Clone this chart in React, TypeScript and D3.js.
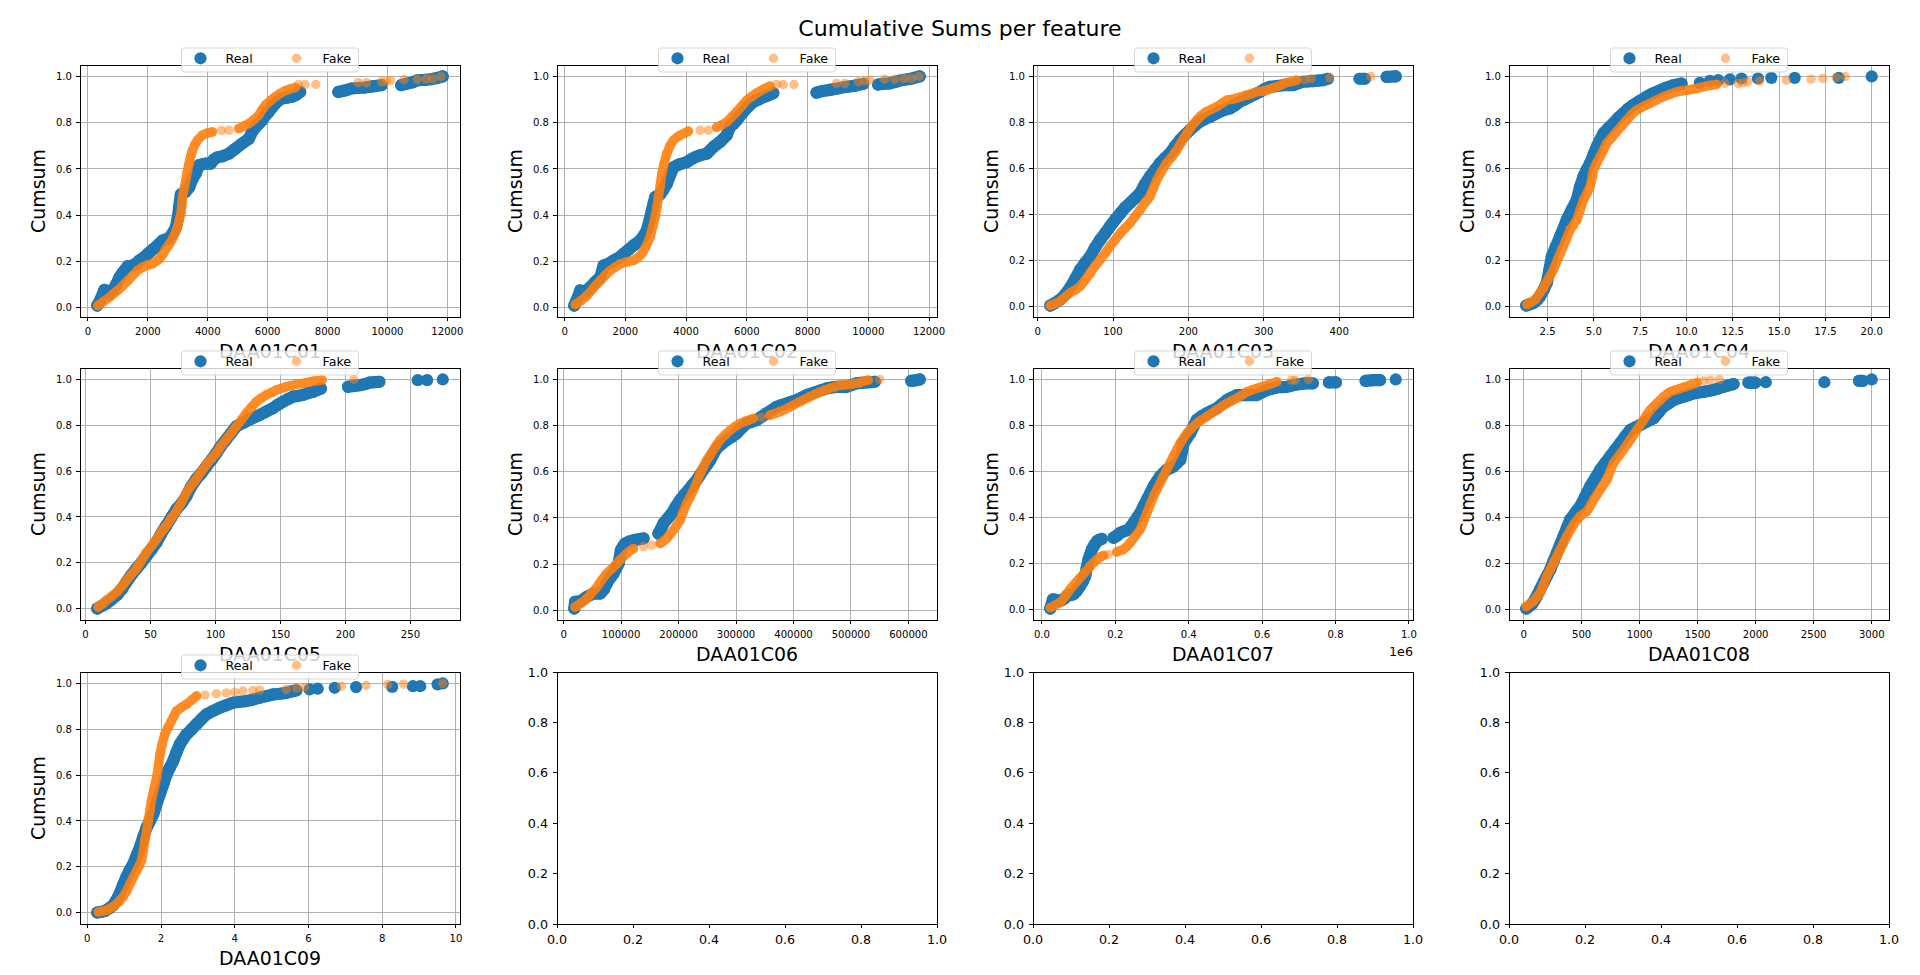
import React from 'react';
import * as d3 from 'd3';

type Pt = [number, number];
type Run = Pt[];

const TITLE = 'Cumulative Sums per feature';
const Y_LABEL = 'Cumsum';
const REAL_LABEL = 'Real';
const FAKE_LABEL = 'Fake';
const FEATURES = ['DAA01C01', 'DAA01C02', 'DAA01C03', 'DAA01C04', 'DAA01C05', 'DAA01C06', 'DAA01C07', 'DAA01C08', 'DAA01C09'];

const Y_TICKS = [0, 0.2, 0.4, 0.6, 0.8, 1.0];
const Y_TICK_LABELS = ['0.0', '0.2', '0.4', '0.6', '0.8', '1.0'];
const EMPTY_TICKS = [0, 0.2, 0.4, 0.6, 0.8, 1.0];
const EMPTY_TICK_LABELS = ['0.0', '0.2', '0.4', '0.6', '0.8', '1.0'];

const C01_X_TICKS = [0, 2000, 4000, 6000, 8000, 10000, 12000];
const C01_X_LABELS = ['0', '2000', '4000', '6000', '8000', '10000', '12000'];
const C02_X_TICKS = [0, 2000, 4000, 6000, 8000, 10000, 12000];
const C02_X_LABELS = ['0', '2000', '4000', '6000', '8000', '10000', '12000'];
const C03_X_TICKS = [0, 100, 200, 300, 400];
const C03_X_LABELS = ['0', '100', '200', '300', '400'];
const C04_X_TICKS = [2.5, 5, 7.5, 10, 12.5, 15, 17.5, 20];
const C04_X_LABELS = ['2.5', '5.0', '7.5', '10.0', '12.5', '15.0', '17.5', '20.0'];
const C05_X_TICKS = [0, 50, 100, 150, 200, 250];
const C05_X_LABELS = ['0', '50', '100', '150', '200', '250'];
const C06_X_TICKS = [0, 100000, 200000, 300000, 400000, 500000, 600000];
const C06_X_LABELS = ['0', '100000', '200000', '300000', '400000', '500000', '600000'];
const C07_X_TICKS = [0, 200000, 400000, 600000, 800000, 1000000];
const C07_X_LABELS = ['0.0', '0.2', '0.4', '0.6', '0.8', '1.0'];
const C07_OFFSET = '1e6';
const C08_X_TICKS = [0, 500, 1000, 1500, 2000, 2500, 3000];
const C08_X_LABELS = ['0', '500', '1000', '1500', '2000', '2500', '3000'];
const C09_X_TICKS = [0, 2, 4, 6, 8, 10];
const C09_X_LABELS = ['0', '2', '4', '6', '8', '10'];

// Each series is a list of runs: consecutive, overlapping points; single-point runs are isolated dots.
const C01_REAL: Run[] = [
  [[310,0.009],[400,0.03],[550,0.077],[720,0.06],[850,0.08],[941,0.10],[1050,0.13],[1150,0.15],[1250,0.165],[1330,0.18],[1450,0.18],[1600,0.19],[1716,0.204],[1850,0.215],[2000,0.233],[2200,0.255],[2380,0.276],[2490,0.29],[2700,0.30],[2823,0.32],[2934,0.348],[3000,0.39],[3045,0.435],[3100,0.49],[3250,0.50],[3376,0.52],[3500,0.56],[3598,0.58],[3709,0.616],[3820,0.62],[3930,0.623],[4096,0.623],[4200,0.64],[4318,0.65],[4500,0.655],[4705,0.666],[4926,0.688],[5148,0.71],[5369,0.73],[5480,0.76],[5590,0.78],[5700,0.795],[5812,0.81],[5920,0.83],[6033,0.847],[6140,0.865],[6255,0.883],[6360,0.895],[6476,0.905],[6640,0.908],[6808,0.912],[6950,0.92],[7085,0.933]],
  [[8358,0.933],[8600,0.94],[8800,0.948],[9000,0.95],[9244,0.952],[9500,0.957],[9797,0.962]],
  [[10460,0.962],[10680,0.97],[10850,0.975],[11015,0.984],[11250,0.985],[11458,0.988],[11650,0.993],[11845,1.0]],
];
const C01_FAKE: Run[] = [
  [[332,0.009],[500,0.025],[720,0.045],[950,0.07],[1162,0.095],[1350,0.12],[1494,0.139],[1650,0.16],[1826,0.175],[2000,0.185],[2159,0.19],[2380,0.21],[2500,0.23],[2602,0.254],[2720,0.275],[2823,0.298],[2920,0.325],[2989,0.348],[3050,0.38],[3100,0.406],[3130,0.44],[3155,0.478],[3210,0.515],[3266,0.55],[3320,0.59],[3376,0.623],[3430,0.655],[3487,0.68],[3570,0.705],[3653,0.724],[3820,0.746],[3980,0.755],[4152,0.76]],
  [[4460,0.766]], [[4705,0.767]],
  [[5037,0.775],[5200,0.785],[5369,0.796],[5540,0.812],[5701,0.832],[5810,0.855],[5923,0.876],[6090,0.895],[6255,0.912],[6420,0.927],[6587,0.938],[6750,0.946],[6919,0.952]],
  [[7030,0.965]], [[7251,0.965]], [[7606,0.965]], [[9022,0.973]], [[9300,0.973]], [[9797,0.977]], [[9963,0.98]], [[10107,0.982]], [[10550,0.986]], [[10993,0.988]], [[11292,0.989]], [[11513,0.99]], [[11790,0.999]],
];

const C02_REAL: Run[] = [
  [[318,0.009],[420,0.04],[515,0.074],[680,0.07],[844,0.088],[1000,0.11],[1173,0.131],[1282,0.182],[1450,0.19],[1611,0.204],[1780,0.215],[1940,0.233],[2100,0.25],[2268,0.269],[2488,0.29],[2600,0.31],[2707,0.334],[2800,0.38],[2871,0.42],[2930,0.45],[2981,0.478],[3145,0.49],[3250,0.51],[3364,0.535],[3480,0.575],[3584,0.607],[3700,0.615],[3803,0.621],[4022,0.629],[4186,0.643],[4320,0.652],[4460,0.659],[4680,0.666],[4899,0.695],[5118,0.717],[5337,0.746],[5447,0.782],[5560,0.795],[5666,0.81],[5780,0.83],[5885,0.847],[6050,0.87],[6214,0.89],[6380,0.9],[6543,0.91],[6700,0.918],[6871,0.928]],
  [[8296,0.93],[8500,0.937],[8734,0.942],[9000,0.948],[9282,0.955],[9550,0.96],[9830,0.968]],
  [[10323,0.965],[10500,0.968],[10707,0.97],[10900,0.977],[11145,0.985],[11400,0.99],[11693,1.0]],
];
const C02_FAKE: Run[] = [
  [[351,0.013],[540,0.03],[734,0.052],[950,0.085],[1173,0.117],[1340,0.14],[1501,0.16],[1660,0.175],[1830,0.189],[2050,0.198],[2268,0.204],[2400,0.215],[2542,0.233],[2680,0.265],[2816,0.305],[2900,0.35],[2981,0.392],[3040,0.435],[3090,0.478],[3150,0.53],[3200,0.579],[3280,0.625],[3364,0.666],[3470,0.7],[3584,0.724],[3700,0.737],[3803,0.746],[3950,0.755],[4077,0.763]],
  [[4460,0.767]], [[4734,0.768]],
  [[5008,0.78],[5170,0.79],[5337,0.803],[5500,0.825],[5666,0.847],[5830,0.872],[5995,0.897],[6160,0.913],[6323,0.928],[6540,0.945],[6762,0.958]],
  [[6981,0.965]], [[7200,0.965]], [[7551,0.965]], [[8953,0.97]], [[9227,0.97]], [[9666,0.977]], [[9885,0.98]], [[10049,0.984]], [[10542,0.988]], [[10871,0.988]], [[11178,0.991]], [[11419,0.991]], [[11671,1.0]],
];

const C03_REAL: Run[] = [
  [[16.8,0.004],[23,0.015],[30,0.03],[36,0.05],[43,0.081],[50,0.12],[56.5,0.16],[63,0.19],[70,0.218],[76,0.255],[83,0.29],[90,0.32],[96,0.348],[103,0.378],[110,0.406],[116,0.43],[122.7,0.45],[129,0.47],[136,0.493],[142,0.53],[149,0.565],[156,0.595],[162.5,0.623],[169,0.645],[175.7,0.666],[182,0.695],[189,0.724],[195,0.745],[202,0.767],[208,0.785],[215,0.803],[222,0.815],[229,0.825],[235,0.835],[242,0.847],[248,0.855],[255,0.861],[262,0.875],[268,0.89],[275,0.9],[282,0.912],[288,0.922],[295,0.933],[301,0.945],[308,0.955],[317,0.958],[326,0.962],[333,0.962],[339,0.962],[345,0.97],[352,0.977],[358,0.978],[365,0.98],[372,0.982],[378.8,0.984],[385,0.99]],
  [[427,0.99],[434,0.99]],
  [[463,0.998],[475,1.0]],
];
const C03_FAKE: Run[] = [
  [[16.8,0.004],[23,0.012],[30,0.023],[36,0.04],[43,0.059],[50,0.072],[56.5,0.088],[63,0.115],[70,0.146],[76,0.175],[83,0.204],[90,0.233],[96,0.262],[103,0.29],[110,0.32],[116,0.34],[122.7,0.363],[129,0.39],[136,0.42],[142,0.45],[149,0.478],[153,0.51],[158,0.55],[164,0.585],[171,0.623],[178,0.65],[184.5,0.68],[191,0.715],[198,0.753],[204,0.782],[211,0.81],[217,0.83],[224,0.847],[231,0.858],[237.5,0.868],[244,0.882],[250.8,0.897],[257,0.9],[264,0.905],[270,0.912],[277,0.919],[284,0.925],[290.5,0.933],[297,0.936],[304,0.94],[310,0.948],[317,0.955],[323,0.963],[330,0.973],[337,0.978],[343.5,0.984]],
  [[354.5,0.985]], [[363,0.99]], [[387.6,0.994]], [[442,1.0]],
];

const C04_REAL: Run[] = [
  [[1.35,0.004],[1.55,0.01],[1.75,0.016],[1.95,0.03],[2.1,0.045],[2.3,0.075],[2.46,0.103],[2.6,0.16],[2.73,0.218],[2.95,0.26],[3.18,0.305],[3.36,0.34],[3.54,0.377],[3.8,0.42],[4.08,0.464],[4.25,0.52],[4.44,0.565],[4.62,0.595],[4.8,0.623],[4.98,0.66],[5.16,0.695],[5.34,0.725],[5.52,0.753],[5.78,0.775],[6.05,0.796],[6.32,0.82],[6.59,0.84],[6.86,0.86],[7.13,0.876],[7.5,0.895],[7.85,0.912],[8.2,0.927],[8.57,0.94],[8.93,0.952],[9.29,0.962],[9.73,0.969]],
  [[10.72,0.972]], [[11.26,0.981]], [[11.71,0.984]], [[12.34,0.987]], [[12.97,0.991]], [[13.86,0.991]], [[14.58,0.994]], [[15.84,0.994]], [[18.22,0.994]], [[20.0,1.0]],
];
const C04_FAKE: Run[] = [
  [[1.39,0.009],[1.6,0.018],[1.84,0.03],[2.05,0.055],[2.28,0.081],[2.55,0.12],[2.82,0.16],[3.05,0.205],[3.27,0.247],[3.5,0.29],[3.72,0.334],[3.9,0.355],[4.08,0.377],[4.26,0.42],[4.44,0.464],[4.62,0.49],[4.8,0.522],[4.9,0.56],[4.98,0.594],[5.16,0.625],[5.34,0.652],[5.52,0.68],[5.7,0.71],[5.97,0.735],[6.23,0.76],[6.5,0.785],[6.77,0.81],[7.04,0.835],[7.31,0.854],[7.67,0.87],[8.03,0.883],[8.4,0.898],[8.75,0.912],[9.1,0.922],[9.46,0.933],[9.73,0.937],[10.0,0.94],[10.27,0.944],[10.54,0.948],[10.81,0.953],[11.08,0.958],[11.35,0.962],[11.62,0.965]],
  [[12.07,0.97]], [[12.78,0.97]], [[13.05,0.972]], [[13.32,0.977]], [[13.95,0.98]], [[15.39,0.984]], [[16.73,0.988]], [[17.36,0.991]], [[18.08,0.996]], [[18.57,1.0]],
];

const C05_REAL: Run[] = [
  [[9,0.0],[12,0.01],[16,0.022],[20,0.04],[24,0.058],[28,0.085],[31.5,0.116],[35,0.145],[39,0.173],[43,0.2],[47,0.231],[51,0.26],[54.6,0.289],[58,0.325],[62,0.361],[66,0.398],[70,0.434],[74,0.46],[77.6,0.491],[81,0.53],[85,0.564],[89,0.59],[93,0.621],[97,0.65],[100.7,0.679],[104,0.708],[108,0.737],[112,0.766],[116,0.795],[121,0.81],[126,0.824],[130,0.835],[134,0.845],[139,0.86],[144,0.874],[148,0.89],[152,0.903],[156,0.915],[159.6,0.925],[163,0.928],[167,0.932],[171,0.94],[175,0.946],[178,0.953],[181,0.96]],
  [[202,0.968],[207,0.972],[211,0.975],[215,0.98],[218.5,0.986],[222,0.988],[226,0.99]],
  [[255.6,0.997]], [[262.8,0.997]], [[274.8,1.0]],
];
const C05_FAKE: Run[] = [
  [[9.7,0.007],[13,0.02],[16,0.036],[20,0.053],[24,0.072],[28,0.098],[31.5,0.123],[35,0.148],[39,0.173],[43,0.21],[47,0.246],[51,0.275],[54.6,0.303],[58,0.332],[62,0.361],[66,0.394],[70,0.426],[74,0.466],[77.6,0.506],[81,0.535],[85,0.564],[89,0.597],[93,0.629],[97,0.655],[100.7,0.679],[104,0.708],[108,0.737],[112,0.766],[116,0.795],[120,0.824],[123.7,0.853],[127.5,0.878],[131.4,0.903],[135,0.918],[139,0.932],[143,0.943],[146.8,0.954],[150.6,0.961],[154.5,0.968],[158,0.973],[162,0.978],[166,0.982],[170,0.986],[173,0.99],[176,0.993],[179,0.995],[182,0.997]],
  [[206.5,1.0]],
];

const C06_REAL: Run[] = [
  [[18500,0.007],[20000,0.036],[30000,0.04],[40500,0.058],[52000,0.072],[63700,0.072],[70000,0.09],[75000,0.116],[81000,0.14],[87000,0.159],[91000,0.18],[95600,0.202],[98000,0.235],[99600,0.26],[103000,0.275],[107000,0.289],[114000,0.297],[121600,0.303],[130000,0.307],[139000,0.311]],
  [[165000,0.332],[170000,0.355],[173700,0.376],[181000,0.398],[188000,0.419],[195000,0.448],[202700,0.477],[210000,0.5],[217000,0.52],[224000,0.542],[231700,0.564],[237000,0.585],[243000,0.607],[249000,0.628],[255000,0.65],[260000,0.675],[266000,0.7],[275000,0.72],[283800,0.737],[292000,0.75],[301000,0.766],[310000,0.79],[318500,0.809],[327000,0.817],[336000,0.824],[344000,0.838],[353000,0.853],[362000,0.867],[370600,0.881],[379000,0.889],[388000,0.896],[396000,0.903],[405000,0.91],[414000,0.921],[422800,0.932],[431000,0.939],[440000,0.946],[449000,0.954],[457500,0.961],[466000,0.965],[475000,0.968],[483000,0.968],[492000,0.968],[500000,0.975],[509600,0.983],[518000,0.985],[527000,0.987],[534000,0.988],[541500,0.99]],
  [[605000,0.994],[612000,0.996],[619700,1.0]],
];
const C06_FAKE: Run[] = [
  [[20000,0.014],[30000,0.03],[40500,0.05],[49000,0.075],[58000,0.1],[66000,0.13],[75000,0.159],[84000,0.18],[92700,0.202],[101000,0.225],[110000,0.246],[116000,0.258],[121600,0.267]],
  [[139000,0.275]], [[153500,0.282]],
  [[168000,0.289],[174000,0.3],[179500,0.311],[185000,0.328],[191000,0.347],[197000,0.368],[202700,0.39],[208000,0.425],[214000,0.462],[220000,0.49],[226000,0.52],[232000,0.556],[237500,0.592],[243000,0.62],[249000,0.65],[255000,0.672],[260600,0.694],[266000,0.715],[272000,0.737],[281000,0.76],[289600,0.78],[298000,0.795],[307000,0.809],[318000,0.82],[330000,0.831]],
  [[344600,0.835]],
  [[359000,0.845],[367000,0.852],[376000,0.86],[385000,0.87],[394000,0.881],[402000,0.892],[411000,0.903],[420000,0.914],[428600,0.925],[437000,0.935],[446000,0.946],[454000,0.953],[463000,0.961],[472000,0.968],[480700,0.975],[489000,0.977],[498000,0.978],[506000,0.982],[515400,0.986],[522000,0.992],[530000,0.997]],
  [[550000,1.0]],
];

const C07_REAL: Run[] = [
  [[22700,0.003],[30000,0.043],[40000,0.04],[50000,0.036],[60000,0.045],[68000,0.058],[78000,0.062],[86000,0.065],[95000,0.08],[104000,0.101],[111000,0.12],[118000,0.145],[122000,0.18],[127000,0.217],[132000,0.24],[136000,0.26],[143000,0.28],[150000,0.296],[156000,0.302],[163000,0.306]],
  [[195000,0.311],[204000,0.32],[213000,0.332],[225000,0.34],[236000,0.347],[243000,0.36],[250000,0.376],[259000,0.398],[268000,0.419],[277000,0.448],[286000,0.477],[295000,0.505],[304000,0.535],[313000,0.556],[322000,0.578],[331000,0.593],[340000,0.607],[349000,0.614],[358000,0.621],[367000,0.635],[377000,0.65],[382000,0.69],[386000,0.723],[395000,0.745],[404000,0.766],[413000,0.795],[422000,0.824],[435000,0.84],[449000,0.853],[462000,0.863],[476000,0.874],[490000,0.892],[504000,0.91],[517000,0.921],[531000,0.932],[545000,0.932],[558000,0.932],[572000,0.932],[585000,0.932],[599000,0.943],[613000,0.954],[627000,0.96],[640000,0.965],[654000,0.967],[667000,0.968],[680000,0.973],[694000,0.978],[705000,0.98],[717000,0.983],[738000,0.983]],
  [[782000,0.987],[801000,0.987]],
  [[882000,0.994],[903000,0.997],[921000,0.997]],
  [[964000,1.0]],
];
const C07_FAKE: Run[] = [
  [[22700,0.007],[36000,0.018],[50000,0.029],[63000,0.055],[77000,0.087],[90000,0.112],[104000,0.137],[118000,0.162],[132000,0.188],[141000,0.203],[150000,0.217],[159000,0.227],[168000,0.234]],
  [[181000,0.238]],
  [[204000,0.249],[213000,0.255],[222000,0.26],[231000,0.272],[240000,0.289],[254000,0.318],[268000,0.347],[277000,0.383],[286000,0.419],[295000,0.455],[304000,0.491],[313000,0.52],[322000,0.549],[331000,0.578],[340000,0.607],[349000,0.636],[358000,0.665],[367000,0.694],[377000,0.723],[386000,0.745],[395000,0.766],[408000,0.788],[422000,0.809],[435000,0.824],[449000,0.838],[462000,0.852],[476000,0.867],[490000,0.882],[504000,0.896],[517000,0.907],[531000,0.918],[545000,0.932],[558000,0.946],[572000,0.954],[585000,0.961],[599000,0.968],[613000,0.975],[626000,0.982],[640000,0.99]],
  [[680000,0.997]], [[690000,0.997]], [[726000,1.0]],
];

const C08_REAL: Run[] = [
  [[23,0.003],[47,0.012],[72,0.022],[95,0.04],[115,0.058],[143,0.087],[172,0.116],[201,0.145],[230,0.173],[258,0.21],[287,0.246],[316,0.282],[345,0.318],[373,0.354],[402,0.39],[445,0.42],[488,0.448],[531,0.49],[574,0.535],[617,0.57],[660,0.607],[703,0.636],[746,0.665],[790,0.694],[833,0.723],[876,0.752],[919,0.78],[962,0.791],[1005,0.802],[1062,0.817],[1120,0.831],[1163,0.857],[1206,0.882],[1249,0.896],[1292,0.91],[1335,0.918],[1378,0.925],[1421,0.932],[1464,0.939],[1507,0.943],[1550,0.946],[1593,0.95],[1636,0.954],[1679,0.961],[1722,0.968],[1765,0.974],[1809,0.98]],
  [[1938,0.986],[1965,0.986],[1995,0.986]],
  [[2087,0.988]], [[2592,0.988]],
  [[2891,0.994],[2922,0.994]],
  [[3000,1.0]],
];
const C08_FAKE: Run[] = [
  [[23,0.012],[55,0.024],[86,0.036],[115,0.054],[144,0.072],[172,0.108],[201,0.145],[230,0.173],[258,0.202],[287,0.231],[316,0.26],[345,0.289],[373,0.318],[402,0.343],[431,0.368],[460,0.388],[488,0.405],[517,0.415],[545,0.426],[574,0.45],[603,0.477],[631,0.498],[660,0.52],[689,0.542],[718,0.564],[746,0.6],[775,0.636],[818,0.665],[861,0.694],[890,0.716],[919,0.737],[947,0.758],[976,0.78],[1005,0.802],[1034,0.824],[1062,0.846],[1091,0.867],[1120,0.882],[1148,0.896],[1177,0.91],[1206,0.925],[1235,0.936],[1263,0.946],[1306,0.954],[1349,0.961],[1392,0.968],[1435,0.975],[1464,0.981],[1493,0.986]],
  [[1550,0.994]], [[1608,0.997]], [[1688,1.0]],
];

const C09_REAL: Run[] = [
  [[0.27,0.0],[0.38,0.003],[0.48,0.007],[0.59,0.018],[0.7,0.032],[0.79,0.055],[0.88,0.083],[0.97,0.12],[1.06,0.155],[1.15,0.185],[1.25,0.213],[1.34,0.25],[1.43,0.286],[1.52,0.33],[1.61,0.372],[1.7,0.4],[1.79,0.43],[1.88,0.475],[1.97,0.517],[2.06,0.56],[2.15,0.604],[2.24,0.633],[2.33,0.662],[2.42,0.7],[2.51,0.735],[2.6,0.757],[2.69,0.778],[2.83,0.8],[2.96,0.822],[3.1,0.845],[3.23,0.865],[3.41,0.88],[3.59,0.894],[3.77,0.905],[3.95,0.916],[4.13,0.92],[4.31,0.923],[4.5,0.93],[4.68,0.938],[4.86,0.945],[5.04,0.952],[5.22,0.955],[5.4,0.959],[5.54,0.965],[5.67,0.97]],
  [[6.03,0.974]], [[6.25,0.977]], [[6.71,0.981]], [[7.29,0.984]], [[8.27,0.985]], [[8.83,0.988]], [[9.03,0.988]], [[9.5,0.996]], [[9.64,1.0]],
];
const C09_FAKE: Run[] = [
  [[0.3,0.003],[0.41,0.006],[0.52,0.01],[0.64,0.02],[0.75,0.032],[0.86,0.048],[0.97,0.068],[1.07,0.095],[1.16,0.126],[1.25,0.155],[1.34,0.184],[1.41,0.205],[1.47,0.228],[1.52,0.27],[1.56,0.314],[1.61,0.357],[1.65,0.401],[1.7,0.445],[1.74,0.488],[1.81,0.54],[1.88,0.59],[1.93,0.64],[1.97,0.691],[2.03,0.735],[2.1,0.778],[2.19,0.807],[2.28,0.836],[2.35,0.858],[2.42,0.88],[2.55,0.895],[2.69,0.909],[2.83,0.927],[2.96,0.945]],
  [[3.19,0.949]], [[3.5,0.955]], [[3.77,0.959]], [[4.0,0.962]], [[4.22,0.967]], [[4.49,0.97]], [[4.68,0.971]], [[5.4,0.974]], [[5.67,0.981]], [[5.89,0.984]], [[6.89,0.988]], [[7.56,0.991]], [[8.15,0.996]], [[8.58,0.997]], [[9.64,1.0]],
];

interface PanelSpec {
  feature: string;
  real: Run[];
  fake: Run[];
  ticks: number[];
  labels: string[];
  offset: string;
}

const PANELS: PanelSpec[] = [
  { feature: FEATURES[0], real: C01_REAL, fake: C01_FAKE, ticks: C01_X_TICKS, labels: C01_X_LABELS, offset: '' },
  { feature: FEATURES[1], real: C02_REAL, fake: C02_FAKE, ticks: C02_X_TICKS, labels: C02_X_LABELS, offset: '' },
  { feature: FEATURES[2], real: C03_REAL, fake: C03_FAKE, ticks: C03_X_TICKS, labels: C03_X_LABELS, offset: '' },
  { feature: FEATURES[3], real: C04_REAL, fake: C04_FAKE, ticks: C04_X_TICKS, labels: C04_X_LABELS, offset: '' },
  { feature: FEATURES[4], real: C05_REAL, fake: C05_FAKE, ticks: C05_X_TICKS, labels: C05_X_LABELS, offset: '' },
  { feature: FEATURES[5], real: C06_REAL, fake: C06_FAKE, ticks: C06_X_TICKS, labels: C06_X_LABELS, offset: '' },
  { feature: FEATURES[6], real: C07_REAL, fake: C07_FAKE, ticks: C07_X_TICKS, labels: C07_X_LABELS, offset: C07_OFFSET },
  { feature: FEATURES[7], real: C08_REAL, fake: C08_FAKE, ticks: C08_X_TICKS, labels: C08_X_LABELS, offset: '' },
  { feature: FEATURES[8], real: C09_REAL, fake: C09_FAKE, ticks: C09_X_TICKS, labels: C09_X_LABELS, offset: '' },
];

const FIG_W = 1920;
const FIG_H = 975;
const AX_W = 380;
const AX_H = 252;
const COL_X = [80, 557, 1033, 1509];
const ROW_Y = [65, 368, 672];
const REAL_COLOR = '#1f77b4';
const FAKE_COLOR = '#ff7f0e';
const GRID_COLOR = '#b0b0b0';
const FONT = "'DejaVu Sans', sans-serif";
const R_REAL = 6.1;
const R_FAKE = 4.7;
const TICK_LEN = 4.4;

function Series({ runs, color, r, x, y, fake }: { runs: Run[]; color: string; r: number; x: d3.ScaleLinear<number, number>; y: d3.ScaleLinear<number, number>; fake: boolean }) {
  const line = d3.line<Pt>().x(d => x(d[0])).y(d => y(d[1]));
  const bands = runs.filter(run => run.length > 1);
  const singles = runs.filter(run => run.length === 1);
  return (
    <g>
      <g opacity={fake ? 0.9 : 1}>
        {bands.map((run, i) => (
          <path key={'b' + i} d={line(run) || ''} fill="none" stroke={color} strokeWidth={2 * r} strokeLinecap="round" strokeLinejoin="round" />
        ))}
        {bands.map((run, i) => run.map((d, j) => (
          <circle key={'c' + i + '-' + j} cx={x(d[0])} cy={y(d[1])} r={r} fill={color} />
        )))}
      </g>
      {singles.map((run, i) => (
        <circle key={'s' + i} cx={x(run[0][0])} cy={y(run[0][1])} r={r} fill={color} opacity={fake ? 0.5 : 1} />
      ))}
    </g>
  );
}

function DataPanel({ p, left, top }: { p: PanelSpec; left: number; top: number }) {
  const pts: Pt[] = [...p.real.flat(), ...p.fake.flat()];
  const [x0, x1] = d3.extent(pts, d => d[0]) as [number, number];
  const [y0, y1] = d3.extent(pts, d => d[1]) as [number, number];
  const xp = (x1 - x0) * 0.05;
  const yp = (y1 - y0) * 0.05;
  const x = d3.scaleLinear().domain([x0 - xp, x1 + xp]).range([0, AX_W]);
  const y = d3.scaleLinear().domain([y0 - yp, y1 + yp]).range([AX_H, 0]);
  const [dx0, dx1] = x.domain();
  const xt = p.ticks.map((t, i) => ({ t, label: p.labels[i] })).filter(o => o.t >= dx0 && o.t <= dx1);
  const cx = AX_W / 2;
  return (
    <g transform={`translate(${left},${top})`}>
      <rect width={AX_W} height={AX_H} fill="#fff" />
      <g shapeRendering="crispEdges">
        {xt.map(o => (
          <line key={'gx' + o.t} x1={x(o.t)} x2={x(o.t)} y1={0} y2={AX_H} stroke={GRID_COLOR} strokeWidth={1} />
        ))}
        {Y_TICKS.map(t => (
          <line key={'gy' + t} x1={0} x2={AX_W} y1={y(t)} y2={y(t)} stroke={GRID_COLOR} strokeWidth={1} />
        ))}
      </g>
      <Series runs={p.real} color={REAL_COLOR} r={R_REAL} x={x} y={y} fake={false} />
      <Series runs={p.fake} color={FAKE_COLOR} r={R_FAKE} x={x} y={y} fake={true} />
      <rect width={AX_W} height={AX_H} fill="none" stroke="#000" strokeWidth={1} shapeRendering="crispEdges" />
      <g shapeRendering="crispEdges">
        {xt.map(o => (
          <line key={'tx' + o.t} x1={x(o.t)} x2={x(o.t)} y1={AX_H} y2={AX_H + TICK_LEN} stroke="#000" strokeWidth={1} />
        ))}
        {Y_TICKS.map(t => (
          <line key={'ty' + t} x1={-TICK_LEN} x2={0} y1={y(t)} y2={y(t)} stroke="#000" strokeWidth={1} />
        ))}
      </g>
      <g fontFamily={FONT} fontSize={10.1} fill="#000">
        {xt.map(o => (
          <text key={'lx' + o.t} x={x(o.t)} y={AX_H + 18} textAnchor="middle">{o.label}</text>
        ))}
        {Y_TICKS.map((t, i) => (
          <text key={'ly' + t} x={-8} y={y(t) + 3.7} textAnchor="end">{Y_TICK_LABELS[i]}</text>
        ))}
      </g>
      {p.offset ? (
        <text x={AX_W} y={AX_H + 36} textAnchor="end" fontFamily={FONT} fontSize={12.7}>{p.offset}</text>
      ) : null}
      <text x={cx} y={AX_H + 41} textAnchor="middle" fontFamily={FONT} fontSize={18.9}>{p.feature}</text>
      <text transform={`translate(-35,${AX_H / 2}) rotate(-90)`} textAnchor="middle" fontFamily={FONT} fontSize={18.9}>{Y_LABEL}</text>
      <g>
        <rect x={cx - 88.5} y={-17} width={177} height={24} rx={3} fill="#fff" fillOpacity={0.8} stroke="#cccccc" strokeOpacity={0.8} strokeWidth={1} />
        <circle cx={cx - 69.5} cy={-6.7} r={R_REAL} fill={REAL_COLOR} />
        <text x={cx - 44.5} y={-2} fontFamily={FONT} fontSize={12.7}>{REAL_LABEL}</text>
        <circle cx={cx + 26.5} cy={-6.7} r={R_FAKE} fill={FAKE_COLOR} opacity={0.5} />
        <text x={cx + 52.5} y={-2} fontFamily={FONT} fontSize={12.7}>{FAKE_LABEL}</text>
      </g>
    </g>
  );
}

function EmptyPanel({ left, top }: { left: number; top: number }) {
  const x = d3.scaleLinear().domain([0, 1]).range([0, AX_W]);
  const y = d3.scaleLinear().domain([0, 1]).range([AX_H, 0]);
  return (
    <g transform={`translate(${left},${top})`}>
      <rect width={AX_W} height={AX_H} fill="#fff" stroke="#000" strokeWidth={1} shapeRendering="crispEdges" />
      <g shapeRendering="crispEdges">
        {EMPTY_TICKS.map(t => (
          <line key={'tx' + t} x1={x(t)} x2={x(t)} y1={AX_H} y2={AX_H + TICK_LEN} stroke="#000" strokeWidth={1} />
        ))}
        {EMPTY_TICKS.map(t => (
          <line key={'ty' + t} x1={-TICK_LEN} x2={0} y1={y(t)} y2={y(t)} stroke="#000" strokeWidth={1} />
        ))}
      </g>
      <g fontFamily={FONT} fontSize={12.7} fill="#000">
        {EMPTY_TICKS.map((t, i) => (
          <text key={'lx' + t} x={x(t)} y={AX_H + 20} textAnchor="middle">{EMPTY_TICK_LABELS[i]}</text>
        ))}
        {EMPTY_TICKS.map((t, i) => (
          <text key={'ly' + t} x={-9} y={y(t) + 4.6} textAnchor="end">{EMPTY_TICK_LABELS[i]}</text>
        ))}
      </g>
    </g>
  );
}

export default function App() {
  const cells = [];
  for (let i = 0; i < 12; i++) {
    const r = Math.floor(i / 4);
    const c = i % 4;
    cells.push({ i, left: COL_X[c], top: ROW_Y[r] });
  }
  return (
    <svg
      width={FIG_W}
      height={FIG_H}
      viewBox={`0 0 ${FIG_W} ${FIG_H}`}
      style={{ position: 'absolute', left: 0, top: 0, background: '#fff' }}
    >
      <rect width={FIG_W} height={FIG_H} fill="#fff" />
      <text x={FIG_W / 2} y={36} textAnchor="middle" fontFamily={FONT} fontSize={22}>{TITLE}</text>
      {cells.map(cell =>
        cell.i < PANELS.length ? (
          <DataPanel key={cell.i} p={PANELS[cell.i]} left={cell.left} top={cell.top} />
        ) : (
          <EmptyPanel key={cell.i} left={cell.left} top={cell.top} />
        )
      )}
    </svg>
  );
}
